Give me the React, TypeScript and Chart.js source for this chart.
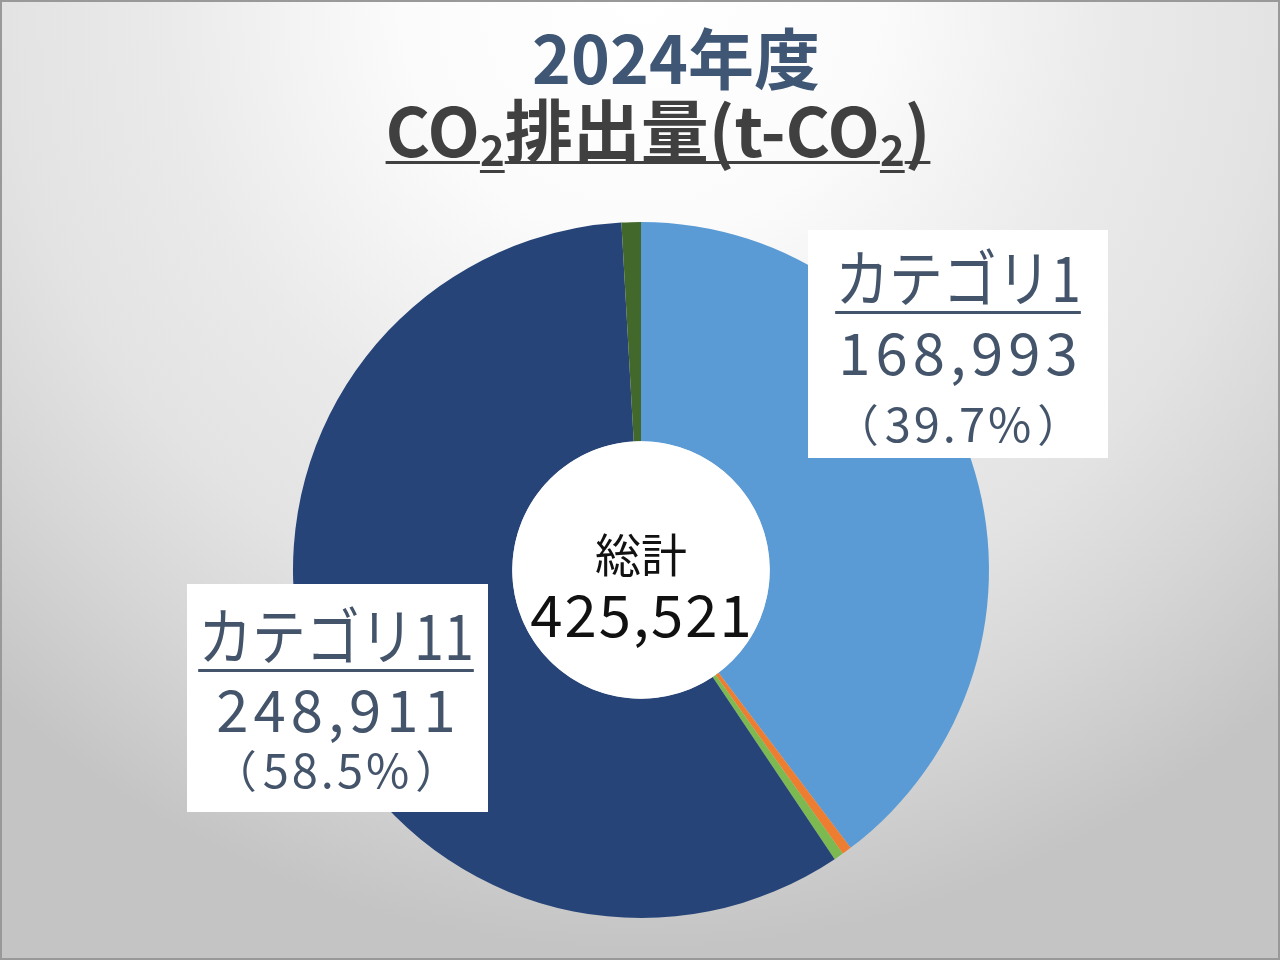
import React, { useEffect, useRef } from "react";
import { Chart, registerables } from "chart.js";

Chart.register(...registerables);

// ---- data ----
const categories = ["カテゴリ1", "カテゴリ2", "カテゴリ3", "カテゴリ11", "カテゴリ12"];
const values = [168993, 1900, 1900, 248911, 3817];
const sliceColors = ["#5B9BD5", "#ED7D31", "#7CB950", "#264478", "#43682B"];
const titleLine1 = "2024年度";
const titleLine2Parts = [
  { text: "CO", sub: false },
  { text: "2", sub: true },
  { text: "排出量(t-CO", sub: false },
  { text: "2", sub: true },
  { text: ")", sub: false },
];
const centerLabel = "総計";
const labeledIndexes = [0, 3];

// ---- layout (styles only) ----
const FONT = '"Noto Sans CJK JP", "Noto Sans", sans-serif';
const LABEL_BOXES = [
  { x: 808, y: 230, w: 300, h: 228, cx: 958, lines: [302, 375, 442] },
  { x: 187, y: 584, w: 301, h: 228, cx: 336, lines: [660, 732, 788] },
];

const total = values.reduce((a, b) => a + b, 0);
const fmt = (n: number) => n.toLocaleString("en-US");

function spacedWidth(ctx: CanvasRenderingContext2D, text: string, spacing: number) {
  const chars = Array.from(text);
  return chars.reduce((s, c) => s + ctx.measureText(c).width, 0) + spacing * (chars.length - 1);
}

function drawSpaced(ctx: CanvasRenderingContext2D, text: string, cx: number, y: number, spacing: number) {
  const w = spacedWidth(ctx, text, spacing);
  let x = cx - w / 2;
  ctx.textAlign = "left";
  for (const c of Array.from(text)) {
    ctx.fillText(c, x, y);
    x += ctx.measureText(c).width + spacing;
  }
  return w;
}

const bgPlugin = {
  id: "bg",
  beforeDraw(chart: any) {
    const { ctx, width, height } = chart;
    ctx.save();
    const g = ctx.createRadialGradient(640, 0, 0, 640, 0, 950);
    g.addColorStop(0, "#ffffff");
    g.addColorStop(0.25, "#fbfbfb");
    g.addColorStop(0.5, "#eaeaea");
    g.addColorStop(0.67, "#e3e3e3");
    g.addColorStop(0.82, "#d6d6d6");
    g.addColorStop(1, "#c4c4c4");
    ctx.fillStyle = g;
    ctx.fillRect(0, 0, width, height);
    ctx.restore();
  },
};

const holePlugin = {
  id: "hole",
  afterDatasetsDraw(chart: any) {
    const { ctx } = chart;
    const arc = chart.getDatasetMeta(0).data[0];
    const { x, y, innerRadius } = arc.getProps(["x", "y", "innerRadius"], true);
    ctx.save();
    ctx.beginPath();
    ctx.arc(x, y, innerRadius, 0, Math.PI * 2);
    ctx.fillStyle = "#ffffff";
    ctx.fill();
    ctx.fillStyle = "#111111";
    ctx.textBaseline = "alphabetic";
    ctx.font = `46px ${FONT}`;
    drawSpaced(ctx, centerLabel, x, y + 2, 0);
    ctx.font = `58px ${FONT}`;
    drawSpaced(ctx, fmt(total), x, y + 67, 2);
    ctx.restore();
  },
};

const overlayPlugin = {
  id: "overlay",
  afterDraw(chart: any) {
    const { ctx, width, height } = chart;
    ctx.save();
    ctx.textBaseline = "alphabetic";
    // label boxes
    labeledIndexes.forEach((idx, i) => {
      const b = LABEL_BOXES[i];
      ctx.fillStyle = "#ffffff";
      ctx.fillRect(b.x, b.y, b.w, b.h);
      ctx.fillStyle = "#44546A";
      // name (condensed)
      const sx = 0.87;
      ctx.font = `62px ${FONT}`;
      const name = categories[idx];
      const nw = ctx.measureText(name).width * sx;
      ctx.save();
      ctx.translate(b.cx, b.lines[0]);
      ctx.scale(sx, 1);
      ctx.textAlign = "center";
      ctx.fillText(name, 0, 0);
      ctx.restore();
      ctx.fillRect(b.cx - nw / 2, b.lines[0] + 9, nw, 3);
      // value
      ctx.font = `58px ${FONT}`;
      drawSpaced(ctx, fmt(values[idx]), b.cx, b.lines[1], 5);
      // percent
      ctx.font = `47px ${FONT}`;
      const pct = ((values[idx] / total) * 100).toFixed(1) + "%";
      const pw = drawSpaced(ctx, pct, b.cx, b.lines[2], 3);
      ctx.font = `44px ${FONT}`;
      ctx.textAlign = "right";
      ctx.fillText("（", b.cx - pw / 2 - 6, b.lines[2]);
      ctx.textAlign = "left";
      ctx.fillText("）", b.cx + pw / 2 + 6, b.lines[2]);
    });

    // title line 1
    ctx.textAlign = "center";
    ctx.fillStyle = "#3F5775";
    ctx.font = `bold 66px ${FONT}`;
    ctx.fillText(titleLine1, 676, 84);

    // title line 2 with subscripts and underline
    ctx.textAlign = "left";
    const mainFont = `bold 68px ${FONT}`;
    const subFont = `bold 42px ${FONT}`;
    const widths = titleLine2Parts.map((p) => {
      ctx.font = p.sub ? subFont : mainFont;
      return ctx.measureText(p.text).width;
    });
    const totalW = widths.reduce((a, b) => a + b, 0);
    let x = 658 - totalW / 2;
    const base = 157;
    ctx.fillStyle = "#404040";
    titleLine2Parts.forEach((p, i) => {
      ctx.font = p.sub ? subFont : mainFont;
      const by = p.sub ? base + 9 : base;
      ctx.fillText(p.text, x, by);
      ctx.fillRect(x, by + 4, widths[i], 3);
      x += widths[i];
    });

    // outer border
    ctx.strokeStyle = "#999999";
    ctx.lineWidth = 2;
    ctx.strokeRect(1, 1, width - 2, height - 2);
    ctx.restore();
  },
};

export default function App() {
  const ref = useRef<HTMLCanvasElement | null>(null);
  useEffect(() => {
    document.body.style.margin = "0";
    if (!ref.current) return;
    const chart = new Chart(ref.current, {
      type: "doughnut",
      data: {
        labels: categories,
        datasets: [
          {
            data: values,
            backgroundColor: sliceColors,
            borderWidth: 0,
            hoverOffset: 0,
            offset: 0,
          } as any,
        ],
      },
      options: {
        responsive: false,
        animation: false,
        events: [],
        cutout: "37%",
        rotation: 0,
        layout: { padding: { left: 293, right: 291, top: 222, bottom: 42 } },
        plugins: {
          legend: { display: false },
          title: { display: false },
          tooltip: { enabled: false },
        },
      },
      plugins: [bgPlugin, holePlugin, overlayPlugin],
    });
    return () => chart.destroy();
  }, []);
  return (
    <div style={{ position: "fixed", left: 0, top: 0, width: 1280, height: 960 }}>
      <canvas ref={ref} width={1280} height={960} style={{ display: "block", width: 1280, height: 960 }} />
    </div>
  );
}
